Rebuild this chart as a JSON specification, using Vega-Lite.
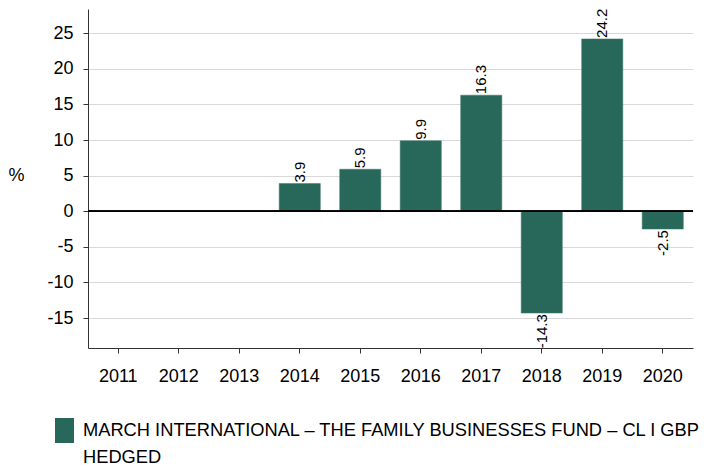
{
  "$schema": "https://vega.github.io/schema/vega-lite/v6.json",
  "width": 605,
  "height": 339,
  "autosize": {"type": "none"},
  "padding": {"left": 88, "top": 9, "right": 27, "bottom": 122},
  "config": {"font": "Liberation Sans", "view": {"stroke": null}, "style": {"guide-label": {"lineHeight": 27}}},
  "data": {
    "values": [
      {"year": "2011", "value": null, "series": "MARCH INTERNATIONAL – THE FAMILY BUSINESSES FUND – CL I GBP HEDGED"},
      {"year": "2012", "value": null, "series": "MARCH INTERNATIONAL – THE FAMILY BUSINESSES FUND – CL I GBP HEDGED"},
      {"year": "2013", "value": null, "series": "MARCH INTERNATIONAL – THE FAMILY BUSINESSES FUND – CL I GBP HEDGED"},
      {"year": "2014", "value": 3.9, "series": "MARCH INTERNATIONAL – THE FAMILY BUSINESSES FUND – CL I GBP HEDGED"},
      {"year": "2015", "value": 5.9, "series": "MARCH INTERNATIONAL – THE FAMILY BUSINESSES FUND – CL I GBP HEDGED"},
      {"year": "2016", "value": 9.9, "series": "MARCH INTERNATIONAL – THE FAMILY BUSINESSES FUND – CL I GBP HEDGED"},
      {"year": "2017", "value": 16.3, "series": "MARCH INTERNATIONAL – THE FAMILY BUSINESSES FUND – CL I GBP HEDGED"},
      {"year": "2018", "value": -14.3, "series": "MARCH INTERNATIONAL – THE FAMILY BUSINESSES FUND – CL I GBP HEDGED"},
      {"year": "2019", "value": 24.2, "series": "MARCH INTERNATIONAL – THE FAMILY BUSINESSES FUND – CL I GBP HEDGED"},
      {"year": "2020", "value": -2.5, "series": "MARCH INTERNATIONAL – THE FAMILY BUSINESSES FUND – CL I GBP HEDGED"}
    ]
  },
  "layer": [
    {
      "mark": {"type": "bar", "stroke": "#3d7a6b", "strokeWidth": 0.5},
      "encoding": {
        "x": {
          "field": "year", "type": "nominal",
          "scale": {"domain": ["2011","2012","2013","2014","2015","2016","2017","2018","2019","2020"], "paddingInner": 0.32, "paddingOuter": 0.16},
          "axis": {"title": null, "labelAngle": 0, "labelFontSize": 18, "labelColor": "#000", "domainColor": "#333", "tickColor": "#333", "tickSize": 5, "labelPadding": 14, "grid": false}
        },
        "y": {
          "field": "value", "type": "quantitative",
          "scale": {"domain": [-19.2, 28.4], "nice": false, "zero": false},
          "axis": {"values": [-15,-10,-5,0,5,10,15,20,25], "labelExpr": "replace(datum.label, '−', '-')", "title": "%", "titleAngle": 0, "titleFontSize": 18, "titleFontWeight": "normal", "titleColor": "#000", "titleX": -72, "titleY": 166, "titleAlign": "center", "titleBaseline": "middle", "labelFontSize": 18, "labelColor": "#000", "gridColor": "#d9d9d9", "domainColor": "#333", "tickColor": "#333", "tickSize": 5, "labelPadding": 10}
        },
        "color": {
          "field": "series", "type": "nominal",
          "scale": {"range": ["#28685a"]},
          "legend": {
            "orient": "none", "legendX": -36, "legendY": 409, "title": null,
            "symbolType": "M-0.76,-1H0.76V1H-0.76Z", "symbolSize": 625, "symbolOpacity": 1, "symbolStrokeWidth": 0,
            "labelFontSize": 18.3, "labelColor": "#000", "labelLimit": 0, "labelOffset": 6,
            "labelExpr": "[' MARCH INTERNATIONAL – THE FAMILY BUSINESSES FUND – CL I GBP', 'HEDGED']"
          }
        }
      }
    },
    {
      "mark": {"type": "rule", "color": "#000", "strokeWidth": 1},
      "encoding": {"y": {"datum": 0, "type": "quantitative"}}
    },
    {
      "transform": [{"filter": "datum.value > 0"}],
      "mark": {"type": "text", "angle": 270, "align": "left", "baseline": "middle", "dx": 1, "fontSize": 15, "color": "#000"},
      "encoding": {
        "x": {"field": "year", "type": "nominal"},
        "y": {"field": "value", "type": "quantitative"},
        "text": {"field": "value", "type": "nominal"}
      }
    },
    {
      "transform": [{"filter": "datum.value < 0"}],
      "mark": {"type": "text", "angle": 270, "align": "right", "baseline": "middle", "dx": -1, "fontSize": 15, "color": "#000"},
      "encoding": {
        "x": {"field": "year", "type": "nominal"},
        "y": {"field": "value", "type": "quantitative"},
        "text": {"field": "value", "type": "nominal"}
      }
    }
  ]
}
